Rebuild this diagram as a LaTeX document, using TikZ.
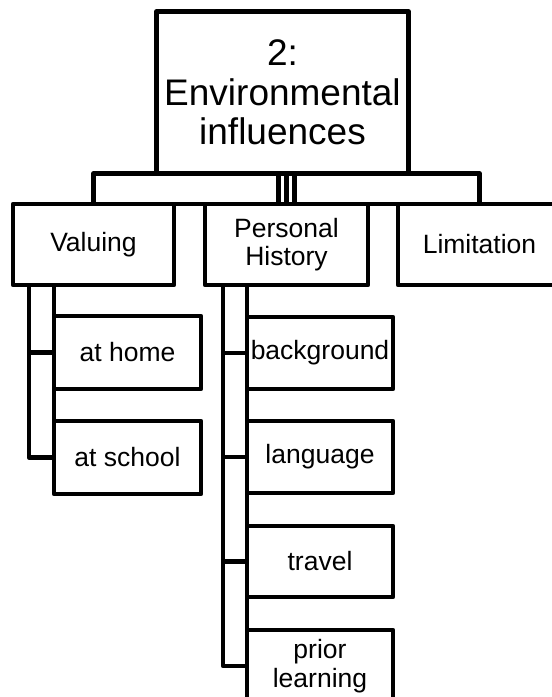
\documentclass[tikz,border=0pt]{standalone}
\usepackage{fontspec}
\setmainfont{Liberation Sans}
\usetikzlibrary{calc}
\begin{document}
\begin{tikzpicture}[x=1pt,y=-1pt,
  line width=4.5pt, line join=round,
  box/.style={draw, line width=4.5pt, inner sep=0pt, outer sep=0pt, align=center,
    font=\fontsize{26.5}{28.5}\selectfont},
  lvl/.style={box, minimum width=163pt, minimum height=81pt},
  leaf/.style={box, minimum width=147pt, minimum height=73pt},
  link/.style={draw, line width=4.5pt}]
\useasboundingbox (0,0) rectangle (552,697);

% top of the chart
\node[box, minimum width=252pt, minimum height=162pt,
  font=\fontsize{37}{39.5}\selectfont] (root) at (282.5,92.5)
  {\raisebox{-5pt}{\parbox{240pt}{\centering 2:\\Environmental\\influences}}};

% first level
\node[lvl, minimum width=161pt] (val) at (93.5,244.5) {Valuing};
\node[lvl] (ph) at (286.5,244.5) {Personal\\History};
\node[lvl] (lim) at (479.5,244.5) {Limitation};

% under Valuing
\node[leaf] (home) at (127.5,352.5) {\raisebox{-7pt}{at home}};
\node[leaf] (school) at (127.5,457.5) {at school};

% under Personal History
\node[leaf, minimum width=146pt, minimum height=72pt] (bg) at (320,353) {background};
\node[leaf, minimum width=146pt, minimum height=72pt] (lang) at (320,457) {language};
\node[leaf, minimum width=146pt, minimum height=71pt] (trav) at (320,561.5) {travel};
\node[leaf, minimum width=146pt, minimum height=72pt] (prior) at (320,666) {prior\\learning};

% root to first level
\draw[link] (val.north) |- (root.south) -| (lim.north);
\draw[link] (ph.north) -- (ph.north |- root.south);
\draw[link] ([xshift=-8pt]ph.north) -- ++(0,-31);
\draw[link] ([xshift=8pt]ph.north) -- ++(0,-31);
\draw[link] (val.north east) -- (ph.north west);
\draw[link] (ph.north east) -- (lim.north west);

% Valuing branch
\coordinate (vb) at ([xshift=16pt]val.south west);
\draw[link] (vb) |- (home.west);
\draw[link] (vb) |- (school.west);
\draw[link] (val.south -| home.west) -- (home.north west);
\draw[link] (home.south west) -- (school.north west);

% Personal History branch
\coordinate (pb) at ([xshift=18pt]ph.south west);
\draw[link] (pb) |- (bg.west);
\draw[link] (pb) |- (lang.west);
\draw[link] (pb) |- (trav.west);
\draw[link] (pb) |- (prior.west);
\draw[link] (ph.south -| bg.west) -- (bg.north west);
\draw[link] (bg.south west) -- (lang.north west);
\draw[link] (lang.south west) -- (trav.north west);
\draw[link] (trav.south west) -- (prior.north west);
\end{tikzpicture}
\end{document}
